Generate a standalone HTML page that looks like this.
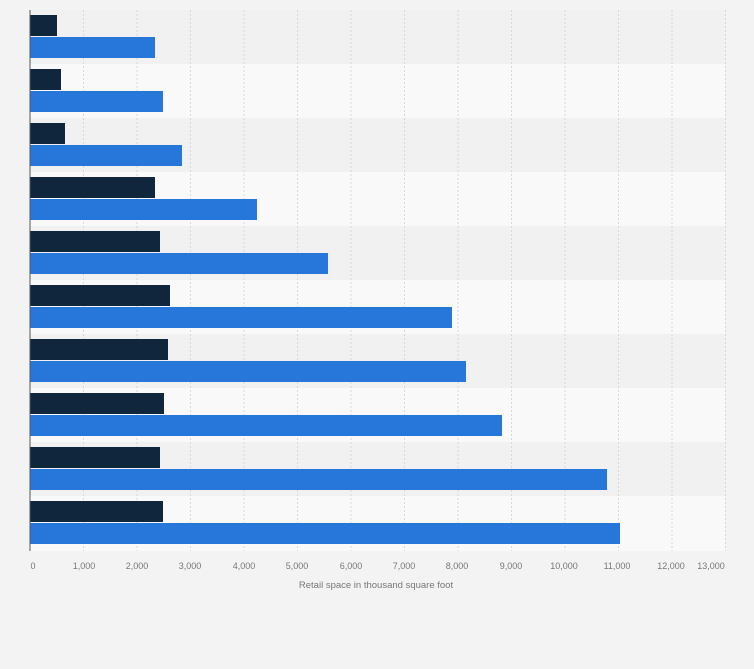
<!DOCTYPE html>
<html><head><style>body{margin:0;background:#f3f3f3}svg{display:block}</style></head><body>
<svg width="754" height="669" xmlns="http://www.w3.org/2000/svg" font-family="Liberation Sans, sans-serif">
<rect width="754" height="669" fill="#f3f3f3"/>
<rect x="30" y="10" width="695" height="54" fill="#f1f1f1"/>
<rect x="30" y="64" width="695" height="54" fill="#f9f9f9"/>
<rect x="30" y="118" width="695" height="54" fill="#f1f1f1"/>
<rect x="30" y="172" width="695" height="54" fill="#f9f9f9"/>
<rect x="30" y="226" width="695" height="54" fill="#f1f1f1"/>
<rect x="30" y="280" width="695" height="54" fill="#f9f9f9"/>
<rect x="30" y="334" width="695" height="54" fill="#f1f1f1"/>
<rect x="30" y="388" width="695" height="54" fill="#f9f9f9"/>
<rect x="30" y="442" width="695" height="54" fill="#f1f1f1"/>
<rect x="30" y="496" width="695" height="55" fill="#f9f9f9"/>
<g stroke="#d8d8d8" stroke-dasharray="2,2" stroke-width="1">
<line x1="83.5" y1="10" x2="83.5" y2="551"/><line x1="137" y1="10" x2="137" y2="551"/><line x1="190.5" y1="10" x2="190.5" y2="551"/><line x1="244" y1="10" x2="244" y2="551"/><line x1="297.5" y1="10" x2="297.5" y2="551"/><line x1="351" y1="10" x2="351" y2="551"/><line x1="404.5" y1="10" x2="404.5" y2="551"/><line x1="458" y1="10" x2="458" y2="551"/><line x1="511.5" y1="10" x2="511.5" y2="551"/><line x1="565" y1="10" x2="565" y2="551"/><line x1="618.5" y1="10" x2="618.5" y2="551"/><line x1="672" y1="10" x2="672" y2="551"/><line x1="725.5" y1="10" x2="725.5" y2="551"/>
</g>
<g fill="#10263d">
<rect x="30" y="15" width="27" height="21"/>
<rect x="30" y="69" width="31" height="21"/>
<rect x="30" y="123" width="35" height="21"/>
<rect x="30" y="177" width="125" height="21"/>
<rect x="30" y="231" width="130" height="21"/>
<rect x="30" y="285" width="140" height="21"/>
<rect x="30" y="339" width="138" height="21"/>
<rect x="30" y="393" width="134" height="21"/>
<rect x="30" y="447" width="130" height="21"/>
<rect x="30" y="501" width="133" height="21"/>
</g>
<g fill="#2776d9">
<rect x="30" y="37" width="125" height="21"/>
<rect x="30" y="91" width="133" height="21"/>
<rect x="30" y="145" width="152" height="21"/>
<rect x="30" y="199" width="227" height="21"/>
<rect x="30" y="253" width="298" height="21"/>
<rect x="30" y="307" width="422" height="21"/>
<rect x="30" y="361" width="436" height="21"/>
<rect x="30" y="415" width="472" height="21"/>
<rect x="30" y="469" width="577" height="21"/>
<rect x="30" y="523" width="590" height="21"/>
</g>
<line x1="30" y1="10" x2="30" y2="551" stroke="#555" stroke-width="1"/>
<g font-size="9" fill="#777" text-anchor="middle">
<text x="33" y="569">0</text><text x="84" y="569">1,000</text><text x="137" y="569">2,000</text><text x="190" y="569">3,000</text><text x="244" y="569">4,000</text><text x="297" y="569">5,000</text><text x="351" y="569">6,000</text><text x="404" y="569">7,000</text><text x="457" y="569">8,000</text><text x="511" y="569">9,000</text><text x="564" y="569">10,000</text><text x="617" y="569">11,000</text><text x="671" y="569">12,000</text><text x="711" y="569">13,000</text>
</g>
<text x="376" y="588" font-size="9.5" fill="#777" text-anchor="middle">Retail space in thousand square foot</text>
</svg>
</body></html>
